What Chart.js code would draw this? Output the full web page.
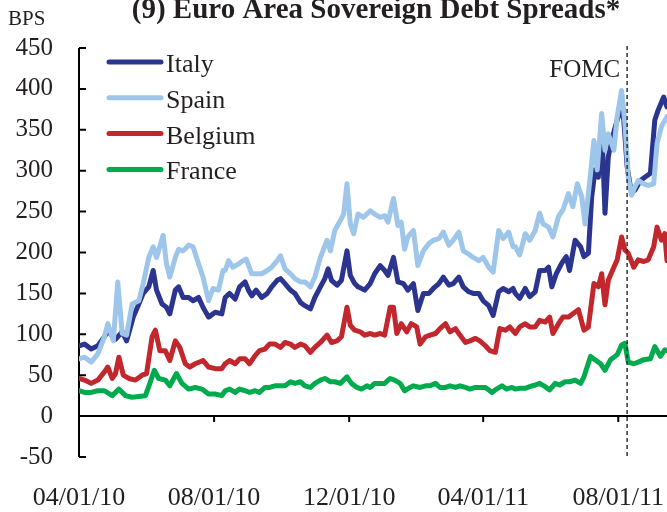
<!DOCTYPE html>
<html>
<head>
<meta charset="utf-8">
<script src="https://cdn.jsdelivr.net/npm/chart.js@4/dist/chart.umd.min.js"></script>
<style>
	html, body { margin: 0; padding: 0; background: #fff; }
	canvas { display: block; }
</style>
</head>
<body>
<canvas id="chart" width="667" height="512"></canvas>
<script>
// x values are days since 04/01/10
const tickDays = [0, 122, 244, 365, 487]
const tickLabels = ['04/01/10', '08/01/10', '12/01/10', '04/01/11', '08/01/11']
const fomcDay = 495

const italyDays = [0, 5, 11, 17, 23, 26, 33, 39, 43, 49, 54, 58, 63, 67, 70, 75, 79, 82, 87, 90, 94, 99, 103, 108, 112, 117, 123, 129,
	132, 136, 141, 145, 150, 153, 156, 160, 165, 170, 174, 179, 182, 186, 191, 195, 200, 204, 209, 213, 218, 222, 225, 228, 233, 237, 242, 245, 249, 252, 258, 263,
	267, 272, 276, 279, 284, 288, 293, 297, 302, 306, 311, 316, 320, 325, 329, 334, 338, 343, 347, 352, 356, 361, 365, 370, 374, 379, 383, 388, 392,
	394, 398, 403, 407, 412, 416, 421, 424, 427, 431, 436, 440, 443, 448, 453, 456, 460, 463, 466, 469, 472, 475, 478, 481, 486, 489, 492, 495, 498, 502, 507, 511, 516, 520, 523, 528, 531]
const italyBps = [86, 88, 82, 86, 97, 104, 94, 103, 92, 121, 137, 150, 158, 178, 154, 137, 133, 125, 154, 158, 145, 145, 141, 145, 133, 121, 127, 125,
	145, 150, 143, 158, 164, 154, 147, 154, 145, 150, 158, 166, 168, 162, 154, 150, 139, 135, 131, 145, 158, 168, 180, 166, 160, 166, 202, 172, 162, 158, 154, 162,
	174, 184, 178, 172, 194, 164, 162, 154, 162, 129, 150, 150, 156, 162, 170, 160, 162, 170, 158, 152, 150, 150, 141, 135, 123, 152, 156, 152, 156,
	150, 144, 156, 146, 152, 178, 178, 182, 158, 174, 187, 195, 178, 215, 207, 195, 199, 268, 301, 292, 358, 248, 317, 337, 362, 378, 362, 305, 280, 276, 288, 292, 297, 362, 374, 390, 378]

const spainDays = [0, 5, 11, 17, 23, 26, 31, 35, 39, 43, 48, 54, 58, 63, 67, 70, 76, 79, 82, 87, 90, 94, 99, 103, 108, 112, 117, 121, 126, 130,
	132, 135, 139, 144, 148, 151, 156, 160, 165, 170, 174, 179, 182, 186, 191, 195, 200, 204, 209, 213, 218, 224, 227, 231, 236, 239, 242, 245, 248, 252, 257, 263,
	267, 272, 276, 279, 284, 288, 291, 294, 297, 302, 306, 311, 316, 320, 325, 329, 334, 338, 343, 347, 352, 356, 361, 365, 370, 374, 379, 383, 388, 392,
	394, 398, 403, 407, 412, 416, 419, 424, 428, 433, 437, 442, 446, 450, 454, 457, 462, 465, 468, 472, 475, 478, 483, 486, 490, 493, 496, 499, 502, 505, 510, 514, 519, 522, 526, 531]
const spainBps = [70, 72, 66, 76, 97, 113, 92, 164, 101, 99, 137, 141, 162, 194, 207, 194, 221, 186, 170, 194, 204, 202, 209, 207, 186, 170, 141, 156, 154, 178,
	178, 190, 182, 186, 190, 192, 174, 174, 174, 178, 182, 190, 196, 180, 174, 168, 164, 164, 158, 170, 194, 215, 202, 227, 239, 247, 284, 235, 223, 247, 243, 251,
	247, 243, 245, 237, 266, 233, 237, 204, 219, 227, 184, 202, 211, 215, 217, 225, 209, 215, 225, 202, 198, 194, 190, 194, 182, 176, 227, 217, 225, 207,
	207, 197, 223, 215, 227, 248, 235, 231, 219, 244, 252, 272, 256, 284, 268, 235, 297, 337, 301, 370, 325, 345, 325, 366, 398, 358, 292, 270, 280, 288, 284, 282, 284, 333, 354, 366]

const belgiumDays = [0, 5, 11, 17, 23, 26, 30, 33, 36, 40, 45, 51, 57, 61, 66, 69, 73, 78, 82, 87, 91, 96, 100, 105, 112, 117, 123, 129,
	132, 136, 141, 145, 150, 154, 159, 163, 168, 172, 177, 182, 186, 191, 195, 200, 204, 209, 213, 218, 224, 228, 233, 237, 242, 245, 249, 254, 258, 263,
	267, 272, 276, 281, 284, 287, 291, 296, 300, 305, 308, 313, 317, 322, 326, 331, 335, 340, 344, 349, 353, 358, 362, 367, 371, 376, 380, 385, 389, 394,
	398, 403, 407, 412, 416, 421, 425, 428, 433, 437, 442, 446, 451, 456, 460, 465, 469, 472, 475, 478, 483, 486, 490, 493, 496, 501, 505, 510, 514, 519, 522, 526, 529, 531]
const belgiumBps = [46, 44, 40, 44, 54, 60, 46, 52, 72, 50, 46, 44, 50, 52, 97, 105, 80, 80, 68, 92, 84, 64, 60, 64, 68, 60, 58, 58,
	64, 68, 64, 70, 70, 64, 74, 80, 82, 88, 88, 84, 90, 88, 84, 88, 86, 78, 84, 90, 99, 90, 92, 97, 133, 111, 105, 103, 99, 101,
	99, 101, 99, 133, 133, 101, 113, 103, 113, 109, 88, 97, 99, 101, 107, 113, 103, 107, 99, 90, 92, 95, 92, 86, 80, 78, 107, 105, 109, 101,
	109, 113, 109, 109, 117, 115, 121, 101, 113, 121, 121, 125, 130, 105, 109, 162, 158, 174, 136, 166, 182, 191, 219, 203, 199, 182, 191, 189, 191, 207, 231, 215, 223, 190]

const franceDays = [0, 5, 11, 17, 23, 30, 36, 42, 48, 54, 60, 64, 68, 72, 78, 82, 88, 93, 99, 105, 111, 117, 123, 129,
	132, 136, 141, 145, 150, 154, 159, 163, 168, 172, 177, 182, 186, 191, 195, 200, 204, 209, 213, 218, 222, 227, 231, 236, 242, 246, 251, 255, 260,
	263, 267, 272, 276, 281, 285, 290, 294, 299, 302, 308, 313, 317, 322, 326, 331, 335, 340, 344, 349, 353, 358, 362, 367, 373, 377, 382, 386, 391,
	394, 398, 403, 407, 412, 416, 421, 425, 430, 434, 439, 443, 448, 453, 456, 462, 466, 471, 475, 480, 486, 490, 493, 496, 501, 505, 510, 516, 520, 525, 529, 531]
const franceBps = [31, 29, 29, 31, 31, 25, 33, 25, 23, 24, 25, 40, 56, 46, 44, 37, 52, 40, 33, 35, 33, 27, 27, 25,
	31, 33, 29, 33, 31, 29, 31, 29, 35, 35, 37, 37, 37, 42, 40, 42, 37, 35, 40, 44, 46, 42, 42, 40, 48, 40, 35, 33, 37,
	35, 40, 40, 40, 46, 44, 40, 31, 35, 37, 35, 37, 37, 40, 35, 35, 37, 35, 37, 35, 33, 35, 35, 35, 29, 33, 37, 33, 35,
	33, 34, 34, 36, 38, 40, 36, 32, 40, 38, 42, 42, 44, 40, 48, 73, 69, 64, 56, 69, 75, 87, 89, 66, 64, 66, 69, 70, 85, 73, 81, 80]

const FONT = '"Liberation Serif", "Times New Roman", serif'
const INK = '#231F20'

const points = (days, vals) => days.map((d, i) => ({ x: d, y: vals[i] }))

function series (label, days, vals, color, order) {
	return {
		label: label,
		data: points(days, vals),
		borderColor: color,
		backgroundColor: color,
		borderWidth: 5,
		borderJoinStyle: 'round',
		borderCapStyle: 'round',
		pointRadius: 0,
		tension: 0,
		order: order
	}
}

// axes, tick marks, legend, notes
const decorations = {
	id: 'decorations',
	beforeDatasetsDraw (chart) {
		const { ctx, chartArea: a, scales: { x, y } } = chart
		ctx.save()
		ctx.strokeStyle = '#000'
		ctx.lineWidth = 2
		ctx.beginPath()
		ctx.moveTo(a.left, a.top)
		ctx.lineTo(a.left, a.bottom)
		y.ticks.forEach(t => {
			const py = y.getPixelForValue(t.value)
			ctx.moveTo(a.left, py)
			ctx.lineTo(a.left + 7, py)
		})
		const y0 = y.getPixelForValue(0)
		ctx.moveTo(a.left, y0)
		ctx.lineTo(a.right, y0)
		x.ticks.forEach(t => {
			if (t.value <= x.min) return
			const px = x.getPixelForValue(t.value)
			ctx.moveTo(px, y0)
			ctx.lineTo(px, y0 + 6)
		})
		ctx.stroke()
		ctx.restore()
	},
	afterDraw (chart) {
		const { ctx, chartArea: a, scales: { x } } = chart
		ctx.save()

		// FOMC marker
		const fx = x.getPixelForValue(fomcDay)
		ctx.strokeStyle = '#333'
		ctx.lineWidth = 1.5
		ctx.setLineDash([4, 3])
		ctx.beginPath()
		ctx.moveTo(fx, a.top - 2)
		ctx.lineTo(fx, a.bottom)
		ctx.stroke()
		ctx.setLineDash([])

		ctx.fillStyle = INK
		ctx.textBaseline = 'alphabetic'
		ctx.font = '25px ' + FONT
		ctx.textAlign = 'right'
		ctx.fillText('FOMC', fx - 7, 77)

		ctx.textAlign = 'center'
		ctx.font = 'bold 29px ' + FONT
		ctx.fillText('(9) Euro Area Sovereign Debt Spreads*', 376, 18)

		ctx.textAlign = 'left'
		ctx.font = '21px ' + FONT
		ctx.fillText('BPS', 8, 25)

		// legend
		ctx.font = '26px ' + FONT
		ctx.lineCap = 'round'
		ctx.lineWidth = 5
		chart.data.datasets.forEach((ds, i) => {
			const ly = 62 + i * 35.8
			ctx.strokeStyle = ds.borderColor
			ctx.beginPath()
			ctx.moveTo(109, ly)
			ctx.lineTo(161, ly)
			ctx.stroke()
			ctx.fillText(ds.label, 166, ly + 10)
		})
		ctx.restore()
	}
}

new Chart(document.getElementById('chart'), {
	type: 'line',
	data: {
		datasets: [
			series('Italy', italyDays, italyBps, '#2B3590', 4),
			series('Spain', spainDays, spainBps, '#9DC6EA', 3),
			series('Belgium', belgiumDays, belgiumBps, '#C1272D', 2),
			series('France', franceDays, franceBps, '#00AB4E', 1)
		]
	},
	options: {
		responsive: false,
		animation: false,
		devicePixelRatio: 1,
		layout: { padding: { top: 48, right: 0, bottom: 0, left: 0 } },
		plugins: {
			legend: { display: false },
			tooltip: { enabled: false }
		},
		scales: {
			x: {
				type: 'linear',
				min: 0,
				max: 531,
				grid: { display: false, drawTicks: false },
				border: { display: false },
				afterBuildTicks (s) { s.ticks = tickDays.map(v => ({ value: v })) },
				afterFit (s) {
					s.height = 55
					s.paddingLeft = 0
					s.paddingRight = 0
				},
				ticks: {
					autoSkip: false,
					maxRotation: 0,
					padding: 26,
					color: INK,
					font: { family: FONT, size: 26 },
					callback: (v, i) => tickLabels[i]
				}
			},
			y: {
				min: -50,
				max: 450,
				grid: { display: false, drawTicks: false },
				border: { display: false },
				afterFit (s) {
					s.width = 79
					s.paddingTop = 0
					s.paddingBottom = 0
				},
				ticks: {
					stepSize: 50,
					padding: 26,
					color: INK,
					font: { family: FONT, size: 25 }
				}
			}
		}
	},
	plugins: [decorations]
})
</script>
</body>
</html>
